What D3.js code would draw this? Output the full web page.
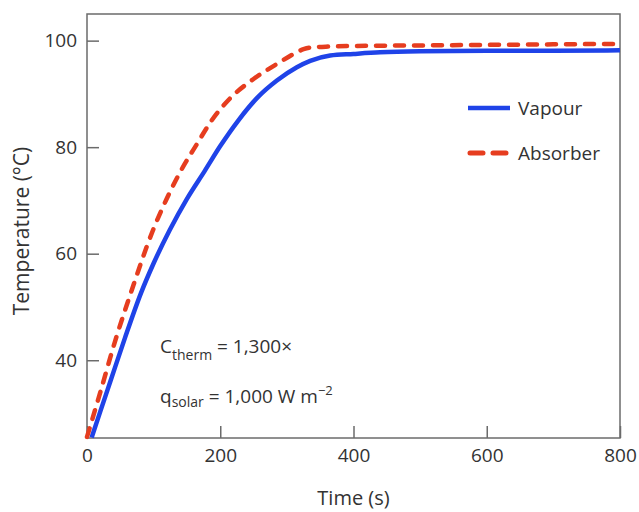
<!DOCTYPE html>
<html>
<head>
<meta charset="utf-8">
<script src="https://cdn.jsdelivr.net/npm/d3@7"></script>
<style>
  body { margin: 0; background: #fff; }
  text { font-family: "Open Sans", sans-serif; fill: #333; }
</style>
</head>
<body>
<script>
// time (s) and temperature (°C)
var vapourTime = [7, 20, 35, 57, 81, 100, 124, 150, 177, 200, 227, 255, 285, 315, 335, 365, 400, 440, 500, 600, 700, 800];
var vapourTemp = [25.5, 30.4, 36, 44.2, 52.6, 58.2, 64.4, 70.3, 75.6, 80.2, 85, 89.2, 92.5, 95, 96.2, 97.2, 97.5, 97.8, 98, 98.1, 98.1, 98.2];
var absorberTime = [0, 20, 42, 67, 99, 120, 141, 165, 187, 215, 250, 290, 310, 325, 335, 365, 400, 500, 600, 700, 800];
var absorberTemp = [25.6, 34, 43.5, 53.1, 64.4, 70.4, 75.6, 80.6, 85, 89.2, 92.8, 96, 97.5, 98.4, 98.7, 98.9, 99, 99.1, 99.2, 99.3, 99.4];
var xTicks = [0, 200, 400, 600, 800];
var yTicks = [40, 60, 80, 100];
var seriesNames = ["Vapour", "Absorber"];

var width = 639,
    height = 512,
    margin = {top: 14, right: 19, bottom: 74, left: 87};

var x = d3.scaleLinear().domain([0, 800]).range([margin.left, width - margin.right]);
var y = d3.scaleLinear().domain([25.4, 105]).range([height - margin.bottom, margin.top]);

var svg = d3.select("body").append("svg")
    .attr("width", width)
    .attr("height", height);

var axisColor = "#6b6b6b";

svg.append("g")
    .attr("transform", "translate(0," + (height - margin.bottom) + ")")
    .call(d3.axisBottom(x).tickValues(xTicks).tickSizeInner(-12).tickSizeOuter(0).tickPadding(11))
    .call(g => g.select(".domain").remove());

svg.append("g")
    .attr("transform", "translate(" + margin.left + ",0)")
    .call(d3.axisLeft(y).tickValues(yTicks).tickSizeInner(-12).tickSizeOuter(0).tickPadding(10))
    .call(g => g.select(".domain").remove());

svg.selectAll(".tick line").attr("stroke", axisColor).attr("stroke-width", 1.5);
svg.selectAll(".tick text").style("font-size", "19px").attr("fill", "#333");

svg.append("rect")
    .attr("x", margin.left)
    .attr("y", margin.top)
    .attr("width", width - margin.left - margin.right)
    .attr("height", height - margin.top - margin.bottom)
    .attr("fill", "none")
    .attr("stroke", axisColor)
    .attr("stroke-width", 1.5);

var line = d3.line()
    .x(d => x(d[0]))
    .y(d => y(d[1]))
    .curve(d3.curveMonotoneX);

var blue = "#1f43e8", red = "#e63d1f";

svg.append("path")
    .datum(d3.zip(vapourTime, vapourTemp))
    .attr("d", line)
    .attr("fill", "none")
    .attr("stroke", blue)
    .attr("stroke-width", 4.5);

svg.append("path")
    .datum(d3.zip(absorberTime, absorberTemp))
    .attr("d", line)
    .attr("fill", "none")
    .attr("stroke", red)
    .attr("stroke-width", 4.5)
    .attr("stroke-linecap", "round")
    .attr("stroke-dasharray", "9,10");

// legend
var legend = svg.append("g");
legend.append("line")
    .attr("x1", 468).attr("x2", 510).attr("y1", 108).attr("y2", 108)
    .attr("stroke", blue).attr("stroke-width", 4.5);
legend.append("line")
    .attr("x1", 470).attr("x2", 510).attr("y1", 153).attr("y2", 153)
    .attr("stroke", red).attr("stroke-width", 5)
    .attr("stroke-linecap", "round").attr("stroke-dasharray", "13,10");
legend.selectAll("text")
    .data(seriesNames)
    .enter().append("text")
    .attr("x", 518)
    .attr("y", (d, i) => 108 + i * 45)
    .attr("dy", "0.35em")
    .style("font-size", "19px")
    .text(d => d);

// annotation
var note1 = svg.append("text").attr("x", 160).attr("y", 353).style("font-size", "19px");
note1.append("tspan").text("C");
note1.append("tspan").attr("dy", 7).style("font-size", "14px").text("therm");
note1.append("tspan").attr("dy", -7).text(" = 1,300×");

var note2 = svg.append("text").attr("x", 160).attr("y", 403).style("font-size", "19px");
note2.append("tspan").text("q");
note2.append("tspan").attr("dy", 4).style("font-size", "14px").text("solar");
note2.append("tspan").attr("dy", -4).text(" = 1,000 W m");
note2.append("tspan").attr("dy", -8).style("font-size", "13px").text("−2");

// axis titles
svg.append("text")
    .attr("x", x(400))
    .attr("y", 505)
    .attr("text-anchor", "middle")
    .style("font-size", "20px")
    .text("Time (s)");

svg.append("text")
    .attr("transform", "translate(29,231) rotate(-90)")
    .attr("text-anchor", "middle")
    .style("font-size", "21px")
    .text("Temperature (°C)");
</script>
</body>
</html>
